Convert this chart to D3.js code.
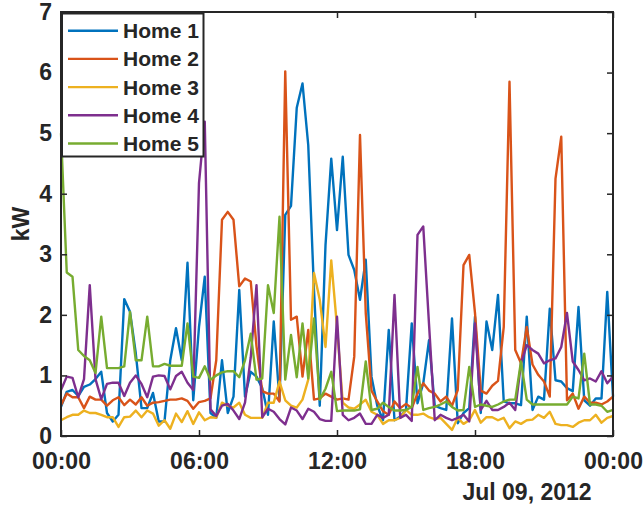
<!DOCTYPE html>
<html lang="en">
<meta charset="utf-8"/>
<head>
<script src="https://d3js.org/d3.v7.min.js"></script>
<style>
  body { margin: 0; background: #fff; }
  svg { display: block; }
  text { font-family: "Liberation Sans", Arial, Helvetica, sans-serif; font-weight: bold; fill: #262626; }
  .series { fill: none; stroke-width: 2.4; stroke-linejoin: round; }
</style>
</head>
<body>
<svg id="chart" width="644" height="508"></svg>
<script>
// readings every 15 minutes over Jul 09, 2012
let startTime = new Date(2012, 6, 9, 0, 0)
let endTime = new Date(2012, 6, 10, 0, 0)
let stepMinutes = 15

let homeNames = ["Home 1", "Home 2", "Home 3", "Home 4", "Home 5"]
let homeColors = ["#0072BD", "#D95319", "#EDB120", "#7E2F8E", "#77AC30"]

let home1 = [0.48, 0.73, 0.76, 0.66, 0.81, 0.85, 0.94, 1.06, 0.38, 0.24,
  0.35, 2.26, 2.05, 1.37, 0.46, 0.46, 0.71, 0.24, 0.24, 1.25,
  1.78, 1.25, 2.86, 0.59, 1.80, 2.63, 0.38, 0.30, 1.25, 0.38,
  0.65, 2.41, 0.65, 1.06, 0.98, 0.79, 0.35, 1.89, 0.59, 3.65,
  3.80, 5.42, 5.82, 4.80, 2.40, 0.50, 3.15, 4.58, 3.40, 4.61,
  2.99, 2.74, 2.25, 2.91, 0.98, 0.50, 0.26, 1.75, 0.26, 0.32,
  0.43, 1.86, 0.54, 0.87, 1.58, 0.50, 0.46, 0.43, 1.94, 0.21,
  0.38, 0.46, 1.97, 0.38, 1.89, 1.42, 2.33, 0.57, 0.54, 0.54,
  0.51, 1.97, 0.43, 0.65, 0.60, 2.10, 0.92, 0.90, 0.79, 0.74,
  2.13, 0.59, 0.50, 0.62, 0.62, 2.38, 0.65]

let home2 = [0.51, 0.70, 0.64, 0.64, 0.46, 0.65, 0.60, 0.60, 0.50, 0.59,
  0.64, 0.51, 0.60, 0.52, 0.64, 0.50, 0.55, 0.56, 0.58, 0.60,
  0.60, 0.62, 0.58, 0.45, 0.56, 0.58, 0.62, 1.25, 3.57, 3.70,
  3.57, 2.47, 2.60, 2.55, 1.48, 0.74, 0.70, 0.70, 0.57, 6.02,
  1.92, 1.97, 0.98, 1.75, 0.60, 0.62, 0.70, 0.65, 0.60, 0.62,
  0.60, 1.31, 4.97, 2.03, 0.75, 0.57, 0.41, 0.35, 0.57, 0.46,
  0.53, 0.46, 0.70, 0.87, 0.75, 0.70, 0.57, 0.65, 0.50, 0.76,
  2.82, 2.99, 2.03, 0.75, 0.70, 0.83, 0.91, 1.80, 5.85, 1.42,
  1.20, 1.80, 1.18, 1.01, 0.90, 0.65, 4.25, 4.94, 0.59, 0.70,
  0.45, 0.65, 0.55, 0.55, 0.52, 0.57, 0.65]

let home3 = [0.26, 0.31, 0.35, 0.35, 0.42, 0.38, 0.38, 0.35, 0.31, 0.31,
  0.15, 0.31, 0.32, 0.42, 0.31, 0.42, 0.37, 0.17, 0.26, 0.12,
  0.37, 0.23, 0.41, 0.20, 0.39, 0.26, 0.31, 0.30, 0.55, 0.50,
  0.47, 0.55, 0.35, 0.30, 0.30, 0.30, 0.55, 0.55, 0.90, 0.59,
  0.50, 0.47, 0.60, 0.93, 2.69, 2.25, 1.47, 2.90, 1.80, 0.55,
  0.47, 0.45, 0.52, 0.60, 0.40, 0.35, 0.20, 0.26, 0.26, 0.30,
  0.43, 0.35, 0.35, 0.37, 0.31, 0.28, 0.30, 0.20, 0.10, 0.30,
  0.20, 0.26, 0.43, 0.22, 0.31, 0.31, 0.26, 0.30, 0.13, 0.24,
  0.20, 0.26, 0.27, 0.35, 0.30, 0.40, 0.20, 0.18, 0.18, 0.15,
  0.22, 0.26, 0.26, 0.35, 0.22, 0.30, 0.33]

let home4 = [0.76, 0.98, 0.96, 0.64, 0.94, 2.49, 0.94, 0.61, 0.86, 0.88,
  0.88, 0.66, 0.88, 1.00, 0.86, 0.64, 0.98, 1.00, 0.99, 0.77,
  0.99, 1.06, 0.88, 0.76, 4.18, 5.19, 0.44, 0.33, 0.50, 0.53,
  0.42, 0.28, 0.55, 1.30, 2.49, 0.31, 0.45, 0.40, 0.28, 0.19,
  0.47, 0.42, 0.28, 0.45, 0.40, 0.28, 0.25, 0.25, 1.97, 0.35,
  0.26, 0.30, 0.37, 0.20, 0.20, 0.35, 0.30, 0.35, 2.33, 0.30,
  0.35, 0.25, 3.32, 3.46, 1.85, 0.26, 0.35, 0.30, 0.26, 0.30,
  0.35, 0.24, 1.86, 0.43, 0.58, 0.43, 0.43, 0.48, 0.55, 0.43,
  1.20, 1.50, 1.42, 1.36, 1.20, 1.25, 1.28, 1.47, 2.03, 1.23,
  1.09, 0.92, 0.95, 0.90, 1.07, 0.87, 0.98]

let home5 = [5.00, 2.70, 2.63, 1.42, 1.32, 1.25, 1.04, 1.97, 1.12, 1.12,
  1.12, 1.15, 2.05, 1.25, 1.25, 1.97, 1.15, 1.15, 1.19, 1.16,
  1.16, 1.16, 1.86, 0.98, 0.96, 1.15, 0.93, 1.00, 1.05, 1.07,
  1.07, 0.97, 1.25, 1.69, 0.93, 0.95, 2.49, 2.03, 3.62, 0.93,
  1.67, 0.97, 1.86, 0.95, 1.94, 0.60, 0.78, 1.06, 0.41, 0.42,
  0.42, 0.42, 0.44, 1.23, 0.43, 0.45, 0.55, 0.48, 0.42, 0.42,
  0.43, 0.48, 1.14, 0.43, 0.46, 0.48, 0.52, 0.57, 0.48, 0.42,
  0.43, 1.14, 0.48, 0.52, 0.50, 0.48, 0.52, 0.57, 0.60, 0.60,
  1.23, 0.60, 0.52, 0.52, 0.52, 0.52, 0.52, 0.52, 0.52, 0.65,
  0.62, 1.36, 0.52, 0.52, 0.50, 0.40, 0.43]

let yTicks = [0, 1, 2, 3, 4, 5, 6, 7]
let dateLabel = "Jul 09, 2012"
let yLabel = "kW"

let allHomes = [home1, home2, home3, home4, home5]

let svg = d3.select("#chart")
let plotLeft = 61, plotRight = 613, plotTop = 12, plotBottom = 436

let xScale = d3.scaleTime().domain([startTime, endTime]).range([plotLeft, plotRight])
let yScale = d3.scaleLinear().domain([0, 7]).range([plotBottom, plotTop])
let xTicks = d3.timeHour.every(6).range(startTime, d3.timeMinute.offset(endTime, 1))

let timeOf = i => d3.timeMinute.offset(startTime, i * stepMinutes)

// lines
let line = d3.line()
  .x((d, i) => xScale(timeOf(i)))
  .y(d => yScale(d))

svg.append("g").selectAll("path")
  .data(allHomes)
  .enter()
  .append("path")
  .attr("class", "series")
  .attr("stroke", (d, i) => homeColors[i])
  .attr("d", line)

// axes, ticks pointing inwards
svg.append("g")
  .attr("transform", "translate(0," + plotBottom + ")")
  .call(d3.axisBottom(xScale).tickValues(xTicks).tickFormat(d3.timeFormat("%H:%M"))
    .tickSizeInner(-6).tickSizeOuter(0).tickPadding(17))
svg.append("g")
  .attr("transform", "translate(0," + plotTop + ")")
  .call(d3.axisTop(xScale).tickValues(xTicks).tickFormat("")
    .tickSizeInner(-6).tickSizeOuter(0))
svg.append("g")
  .attr("transform", "translate(" + plotLeft + ",0)")
  .call(d3.axisLeft(yScale).tickValues(yTicks).tickFormat(d3.format("d"))
    .tickSizeInner(-6).tickSizeOuter(0).tickPadding(9))
svg.append("g")
  .attr("transform", "translate(" + plotRight + ",0)")
  .call(d3.axisRight(yScale).tickValues(yTicks).tickFormat("")
    .tickSizeInner(-6).tickSizeOuter(0))

svg.selectAll(".domain").remove()
svg.selectAll(".tick line").attr("stroke", "#262626").attr("stroke-width", 1.5)
svg.selectAll(".tick text")
  .attr("fill", "#262626")
  .style("font-size", "23px")
  .style("font-family", "'Liberation Sans', Arial, sans-serif")
  .style("font-weight", "bold")

svg.append("rect")
  .attr("x", plotLeft).attr("y", plotTop)
  .attr("width", plotRight - plotLeft).attr("height", plotBottom - plotTop)
  .attr("fill", "none").attr("stroke", "#262626").attr("stroke-width", 2)

svg.append("text")
  .attr("x", 527).attr("y", 500)
  .attr("text-anchor", "middle")
  .style("font-size", "23px")
  .text(dateLabel)

svg.append("text")
  .attr("transform", "translate(29," + ((plotTop + plotBottom) / 2) + ") rotate(-90)")
  .attr("text-anchor", "middle")
  .style("font-size", "23px")
  .text(yLabel)

// legend
let legend = svg.append("g")
legend.append("rect")
  .attr("x", 62).attr("y", 13.5)
  .attr("width", 141.5).attr("height", 143)
  .attr("fill", "#fff").attr("stroke", "#262626").attr("stroke-width", 2)

let rows = legend.selectAll(".row")
  .data(homeNames)
  .enter()
  .append("g")
  .attr("class", "row")
  .attr("transform", (d, i) => "translate(0," + (30.7 + i * 28.2) + ")")
rows.append("line")
  .attr("x1", 68).attr("x2", 118)
  .attr("stroke", (d, i) => homeColors[i])
  .attr("stroke-width", 2.4)
rows.append("text")
  .attr("x", 123).attr("dy", "0.36em")
  .style("font-size", "21px")
  .text(d => d)
</script>
</body>
</html>
